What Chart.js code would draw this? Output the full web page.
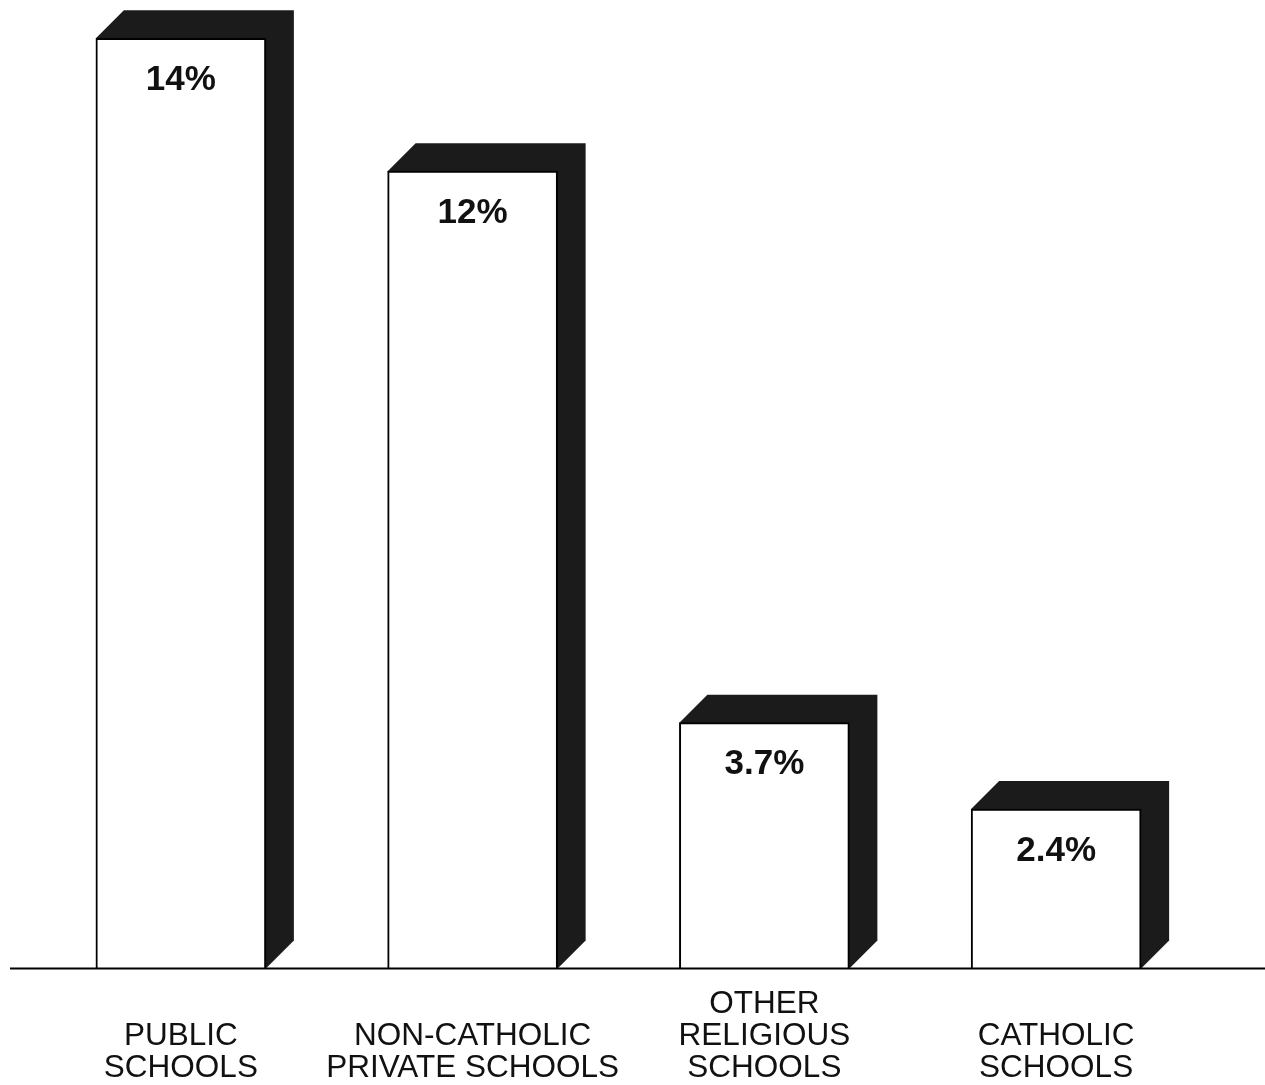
<!DOCTYPE html>
<html>
<head>
<meta charset="utf-8">
<script src="https://cdn.jsdelivr.net/npm/chart.js@4/dist/chart.umd.min.js"></script>
<style>
  html, body { margin: 0; padding: 0; background: #fff; }
</style>
</head>
<body>
<canvas id="schoolChart" width="1265" height="1085"></canvas>
<script>
// Werte der vier Schulformen
const categories = [
  ['PUBLIC', 'SCHOOLS'],
  ['NON-CATHOLIC', 'PRIVATE SCHOOLS'],
  ['OTHER', 'RELIGIOUS', 'SCHOOLS'],
  ['CATHOLIC', 'SCHOOLS']
];
const percentages = [14, 12, 3.7, 2.4];
const valueLabels = ['14%', '12%', '3.7%', '2.4%'];

const DEPTH = 28;           // Tiefe des 3D-Effekts
const SHADE = '#1b1b1b';    // Farbe fuer Seite und Deckel

// Zeichnet Deckel + rechte Seite hinter jede Saeule, danach Beschriftung und Grundlinie
const boxBars = {
  id: 'boxBars',
  beforeDatasetsDraw(chart) {
    const ctx = chart.ctx;
    chart.getDatasetMeta(0).data.forEach(bar => {
      const { x, y, base, width } = bar.getProps(['x', 'y', 'base', 'width'], true);
      const l = x - width / 2, r = x + width / 2;
      ctx.save();
      ctx.fillStyle = SHADE;
      ctx.beginPath();
      ctx.moveTo(l, y);
      ctx.lineTo(l + DEPTH, y - DEPTH);
      ctx.lineTo(r + DEPTH, y - DEPTH);
      ctx.lineTo(r + DEPTH, base - DEPTH);
      ctx.lineTo(r, base);
      ctx.closePath();
      ctx.fill();
      ctx.restore();
    });
  },
  afterDatasetsDraw(chart) {
    const ctx = chart.ctx;
    ctx.save();
    ctx.fillStyle = '#111';
    ctx.font = 'bold 35px "Liberation Sans", Arial, sans-serif';
    ctx.textAlign = 'center';
    ctx.textBaseline = 'middle';
    chart.getDatasetMeta(0).data.forEach((bar, i) => {
      const { x, y } = bar.getProps(['x', 'y'], true);
      ctx.fillText(valueLabels[i], x, y + 42);
    });
    ctx.restore();
  },
  afterDraw(chart) {
    const ctx = chart.ctx;
    const y0 = chart.scales.y.getPixelForValue(0);
    ctx.save();
    ctx.strokeStyle = '#000';
    ctx.lineWidth = 2;
    ctx.beginPath();
    ctx.moveTo(10, y0);
    ctx.lineTo(chart.width, y0);
    ctx.stroke();
    ctx.restore();
  }
};

const ctx = document.getElementById('schoolChart').getContext('2d');
const schoolChart = new Chart(ctx, {
  type: 'bar',
  data: {
    labels: categories,
    datasets: [{
      data: percentages,
      backgroundColor: '#fff',
      borderColor: '#000',
      borderWidth: 2,
      barThickness: 170
    }]
  },
  options: {
    responsive: false,
    animation: false,
    layout: { padding: { left: 35, right: 63, top: 5, bottom: -51 } },
    plugins: {
      legend: { display: false },
      tooltip: { enabled: false }
    },
    scales: {
      y: { display: false, min: 0, max: 14.5 },
      x: {
        grid: { display: false, drawTicks: false },
        border: { display: false },
        ticks: {
          color: '#111',
          padding: 36,
          minRotation: 0,
          maxRotation: 0,
          autoSkip: false,
          crossAlign: 'far', // mehrzeilige Beschriftungen unten buendig
          font: { family: '"Liberation Sans", Arial, sans-serif', size: 31.5, lineHeight: 1.01 }
        }
      }
    }
  },
  plugins: [boxBars]
});
</script>
</body>
</html>
